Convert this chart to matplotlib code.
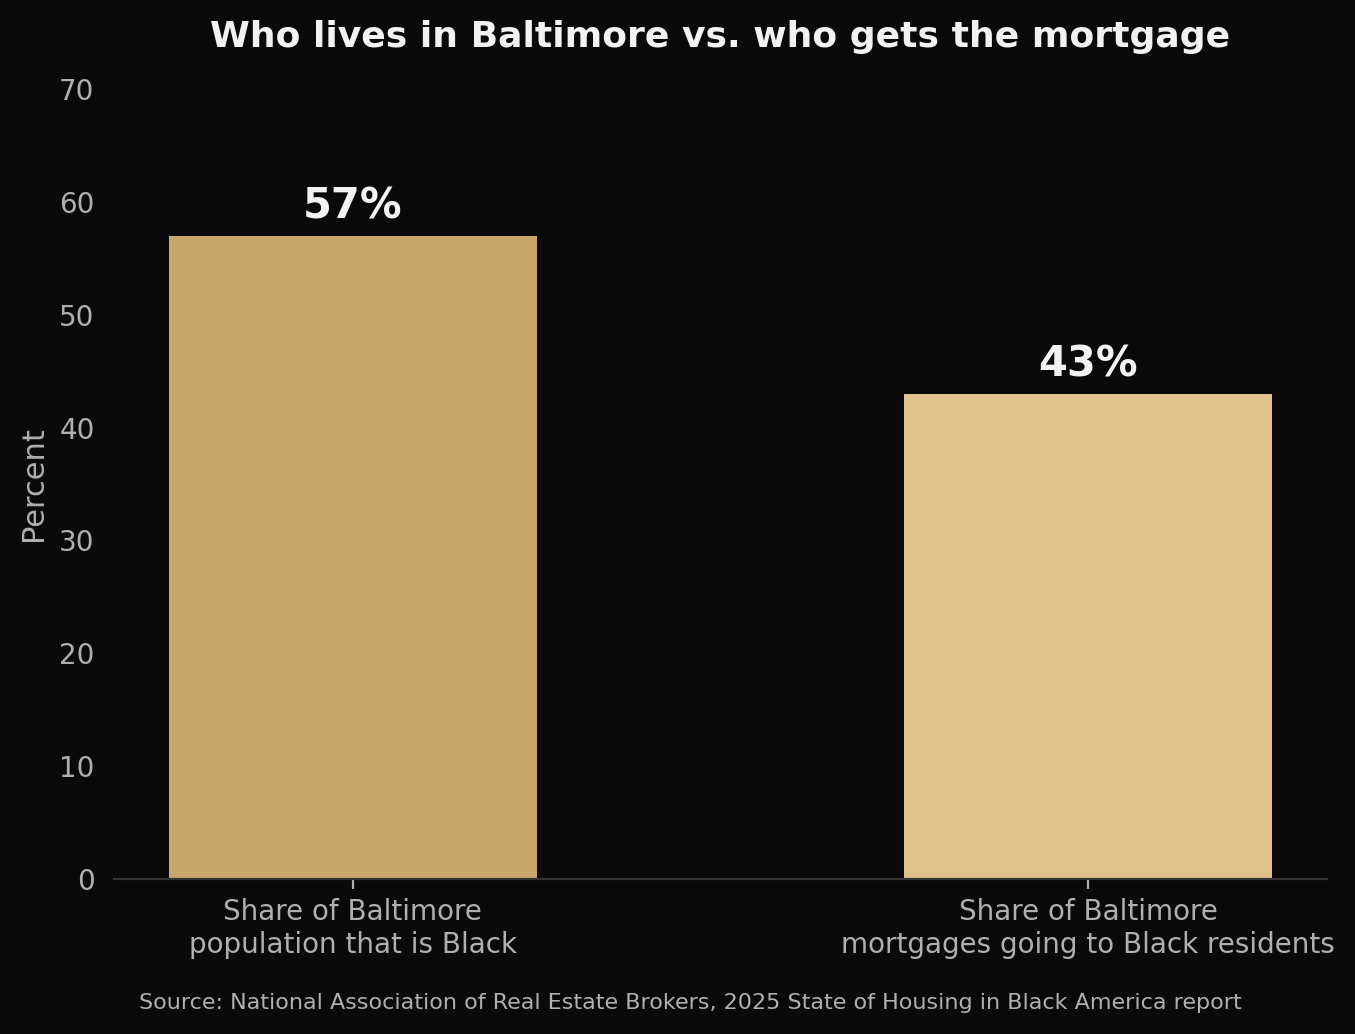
import matplotlib
matplotlib.use('Agg')
import matplotlib.pyplot as plt

# Data
categories = ['Share of Baltimore\npopulation that is Black',
              'Share of Baltimore\nmortgages going to Black residents']
values = [57, 43]
bar_colors = ['#C9A76A', '#E0C38A']

bg = '#0a0a0a'
text_grey = '#b0b0b0'

fig = plt.figure(figsize=(6.775, 5.17), dpi=200, facecolor=bg)
ax = fig.add_axes([114 / 1355, 1 - 879 / 1034, (1327 - 114) / 1355, (879 - 89) / 1034])
ax.set_facecolor(bg)

x = list(range(len(categories)))
bars = ax.bar(x, values, width=0.5, color=bar_colors)

# Value labels above bars
for xi, v in zip(x, values):
    ax.annotate(f'{v}%', (xi, v), xytext=(0, 3), textcoords='offset points',
                ha='center', va='bottom', fontsize=15, fontweight='bold',
                color='#f2f2f2')

ax.set_ylim(0, 70)
ax.set_xticks(x)
ax.set_xticklabels(categories)

for side in ['top', 'right', 'left']:
    ax.spines[side].set_visible(False)
ax.spines['bottom'].set_color('#333333')

ax.tick_params(axis='x', colors=text_grey, labelsize=10)
ax.tick_params(axis='y', colors=text_grey, labelsize=10, length=0, pad=7)
ax.set_ylabel('Percent', color=text_grey, fontsize=11)

ax.set_title('Who lives in Baltimore vs. who gets the mortgage',
             fontsize=13, fontweight='bold', color='#f2f2f2', pad=15)

fig.text(690 / 1355, 1 - 1003 / 1034,
         'Source: National Association of Real Estate Brokers, 2025 State of Housing in Black America report',
         ha='center', va='center', fontsize=8, color=text_grey)

fig.savefig('out.png', dpi=200, facecolor=bg)
